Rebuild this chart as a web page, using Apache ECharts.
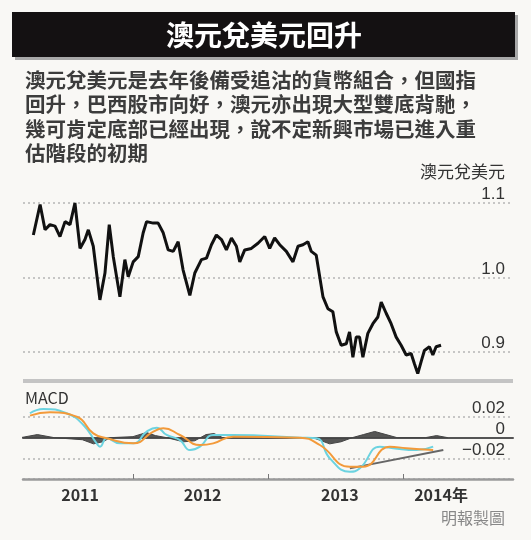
<!DOCTYPE html>
<html>
<head>
<meta charset="utf-8">
<script src="https://cdn.jsdelivr.net/npm/echarts@6/dist/echarts.min.js"></script>
<style>
html,body{margin:0;padding:0;background:#f9f8f5;}
#main{width:531px;height:540px;}
</style>
</head>
<body>
<div id="main"></div>
<script>
// 月份：自2011年1月起計（小數）
var priceMonths = [3.14,3.74,4.18,4.62,5.07,5.51,5.96,6.40,6.84,7.29,7.73,8.03,8.47,9.06,9.51,9.89,10.25,10.84,11.28,11.58,12.02,12.47,12.91,13.21,13.80,14.24,14.69,15.13,15.58,16.02,16.46,17.06,17.50,18.09,18.54,18.98,19.42,19.87,20.31,20.76,21.20,21.50,21.94,22.53,23.12,23.72,24.16,24.60,25.05,25.64,26.23,26.68,27.12,27.56,27.86,28.30,28.90,29.34,29.78,30.08,30.52,30.97,31.26,31.56,31.86,32.15,32.45,32.89,33.34,33.78,34.08,34.52,34.96,35.41,35.85,36.30,36.74,37.04,37.33,37.63,37.92,38.37,38.67,38.96,39.40];
var priceValues = [1.057,1.098,1.064,1.071,1.069,1.055,1.075,1.071,1.100,1.039,1.051,1.064,1.042,0.970,1.006,1.071,1.028,0.974,1.024,1.001,1.021,1.028,1.060,1.075,1.073,1.073,1.060,1.037,1.035,1.048,1.010,0.976,1.006,1.024,1.026,1.044,1.057,1.051,1.037,1.053,1.042,1.021,1.037,1.039,1.046,1.055,1.039,1.053,1.044,1.035,1.021,1.042,1.044,1.048,1.035,1.030,0.974,0.958,0.954,0.927,0.909,0.911,0.927,0.893,0.920,0.920,0.893,0.925,0.938,0.947,0.967,0.952,0.938,0.920,0.909,0.896,0.898,0.884,0.871,0.887,0.902,0.907,0.896,0.907,0.909];

var cyanMonths = [2.84,4.03,6.1,7.59,8.77,9.07,9.66,10.85,12.03,13.22,14.1,15.0,16.18,17.07,17.96,19.14,20.92,26.85,28.33,29.51,31.29,32.18,33.96,35.14,37.22,38.7];
var cyanValues = [0.0236,0.0278,0.0236,0.0123,-0.0055,-0.0087,-0.0006,-0.0055,-0.0055,0.0058,0.0097,0.0026,-0.0023,-0.012,-0.0087,0.0026,0.0026,0,-0.0006,-0.02,-0.033,-0.0297,-0.0087,-0.0103,-0.012,-0.0087];
var orangeMonths = [2.84,4.62,7.0,8.47,9.66,12.03,13.81,14.7,16.18,17.96,19.14,20.92,26.85,28.62,31.29,32.48,34.85,36.33,38.7];
var orangeValues = [0.0213,0.0245,0.0203,0.0042,-0.0006,-0.0055,0.0058,0.009,0.0026,-0.0071,-0.0055,0.001,0,-0.0071,-0.0281,-0.0281,-0.0087,-0.0103,-0.012];
var trendMonths = [31.29,39.6];
var trendValues = [-0.0297,-0.012];
var histMonths = [2.0,3.5,5,7.5,8.5,9.3,10,12,13.2,14,15,16.5,17.5,18.5,19.2,20,28,29.5,30.5,31.5,32.5,33.5,34.5,35.5,38,39,40];
var histValues = [0,0.003,0,-0.002,-0.006,-0.004,0,0.001,0.005,0.002,0,-0.004,-0.003,0.003,0.004,0,0,-0.006,-0.004,0,0.003,0.006,0.003,0,0,0.002,0];

var yearLabels = ['2011','2012','2013','2014年'];
var yearPos = [7.3,18.2,30.4,39.4];
var yearTicks = [12,24,36];

var textLines = [
	'澳元兌美元是去年後備受追沽的貨幣組合，但國指',
	'回升，巴西股市向好，澳元亦出現大型雙底背馳，',
	'幾可肯定底部已經出現，說不定新興市場已進入重',
	'估階段的初期'
];

function pairs(xs, ys){
	var out = [];
	for (var i = 0; i < xs.length; i++) { out.push([xs[i], ys[i]]); }
	return out;
}

var font = '"Noto Sans CJK TC", "Noto Sans", sans-serif';
var dotted = {show:true, lineStyle:{color:'#b5b5b5', type:[2,3], width:1.5}};

var graphics = [
	{type:'rect', shape:{x:15, y:15, width:503, height:45}, style:{fill:'#a8a8a8'}},
	{type:'rect', shape:{x:12, y:12, width:503, height:45}, style:{fill:'#141112'}},
	{type:'text', x:264, y:35, style:{text:'澳元兌美元回升', fill:'#fff', font:'bold 28px ' + font, textAlign:'center', textVerticalAlign:'middle'}},
	{type:'text', x:505, y:172, style:{text:'澳元兌美元', fill:'#333', font:'17px ' + font, textAlign:'right', textVerticalAlign:'middle'}},
	{type:'rect', shape:{x:23, y:379, width:490, height:4}, style:{fill:'#c4c4c4'}},
	{type:'text', x:25, y:398, style:{text:'MACD', fill:'#333', font:'16px ' + font, textVerticalAlign:'middle'}},
	{type:'text', x:505, y:518, style:{text:'明報製圖', fill:'#888', font:'16px ' + font, textAlign:'right', textVerticalAlign:'middle'}}
];
textLines.forEach(function(t, i){
	graphics.push({type:'text', x:25, y:80 + i * 24.5, style:{text:t, fill:'#3c3c3c', font:'bold 20.5px ' + font, textVerticalAlign:'middle'}});
});

var labelFont = '"Liberation Sans", sans-serif';

var option = {
	backgroundColor:'#f9f8f5',
	animation:false,
	graphic:graphics,
	grid:[
		{left:23, right:18, top:203, height:149},
		{left:23, right:18, top:417, height:62}
	],
	xAxis:[
		{gridIndex:0, type:'value', min:2.22, max:45.8, show:false},
		{gridIndex:1, type:'value', min:2.22, max:45.8, position:'bottom',
			axisLine:{onZero:false, lineStyle:{color:'#9a9a9a', width:2.5}},
			splitLine:{show:false},
			axisTick:{show:true, inside:true, length:5, customValues:yearTicks, lineStyle:{color:'#777'}},
			axisLabel:{customValues:yearPos, color:'#333', fontSize:16, fontWeight:'bold', fontFamily:font, margin:8,
				formatter:function(v){ var i = yearPos.indexOf(v); return i >= 0 ? yearLabels[i] : ''; }}
		},
		{gridIndex:1, type:'value', min:2.22, max:45.8,
			axisLine:{onZero:true, lineStyle:{color:'#555', width:2}},
			axisTick:{show:false}, axisLabel:{show:false}, splitLine:{show:false}}
	],
	yAxis:[
		{gridIndex:0, type:'value', min:0.9, max:1.1, interval:0.1, position:'right',
			axisLine:{show:false}, axisTick:{show:false}, splitLine:dotted,
			axisLabel:{inside:true, margin:8, verticalAlign:'bottom', color:'#333', fontSize:17, fontFamily:labelFont,
				formatter:function(v){ return v.toFixed(1); }}
		},
		{gridIndex:1, type:'value', min:-0.04, max:0.02, interval:0.02, position:'right',
			axisLine:{show:false}, axisTick:{show:false}, splitLine:dotted,
			axisLabel:{inside:true, margin:8, verticalAlign:'bottom', color:'#333', fontSize:17, fontFamily:labelFont,
				formatter:function(v){
					if (v < -0.03) return '';
					if (Math.abs(v) < 1e-9) return '0';
					return (v < 0 ? '−' : '') + Math.abs(v).toFixed(2);
				}}
		}
	],
	series:[
		{type:'line', xAxisIndex:0, yAxisIndex:0, data:pairs(priceMonths, priceValues), symbol:'none', clip:false,
			lineStyle:{color:'#111', width:3}},
		{type:'line', xAxisIndex:1, yAxisIndex:1, data:pairs(histMonths, histValues), symbol:'none', clip:false,
			lineStyle:{color:'#444', width:1}, areaStyle:{color:'#444', opacity:0.9}},
		{type:'line', xAxisIndex:1, yAxisIndex:1, data:pairs(trendMonths, trendValues), symbol:'none', clip:false,
			lineStyle:{color:'#666', width:2}},
		{type:'line', xAxisIndex:1, yAxisIndex:1, data:pairs(cyanMonths, cyanValues), symbol:'none', smooth:true, clip:false,
			lineStyle:{color:'#6cd3e0', width:2}},
		{type:'line', xAxisIndex:1, yAxisIndex:1, data:pairs(orangeMonths, orangeValues), symbol:'none', smooth:true, clip:false,
			lineStyle:{color:'#f39a3a', width:2}}
	]
};

var myChart = echarts.init(document.getElementById('main'));
myChart.setOption(option);
</script>
</body>
</html>
